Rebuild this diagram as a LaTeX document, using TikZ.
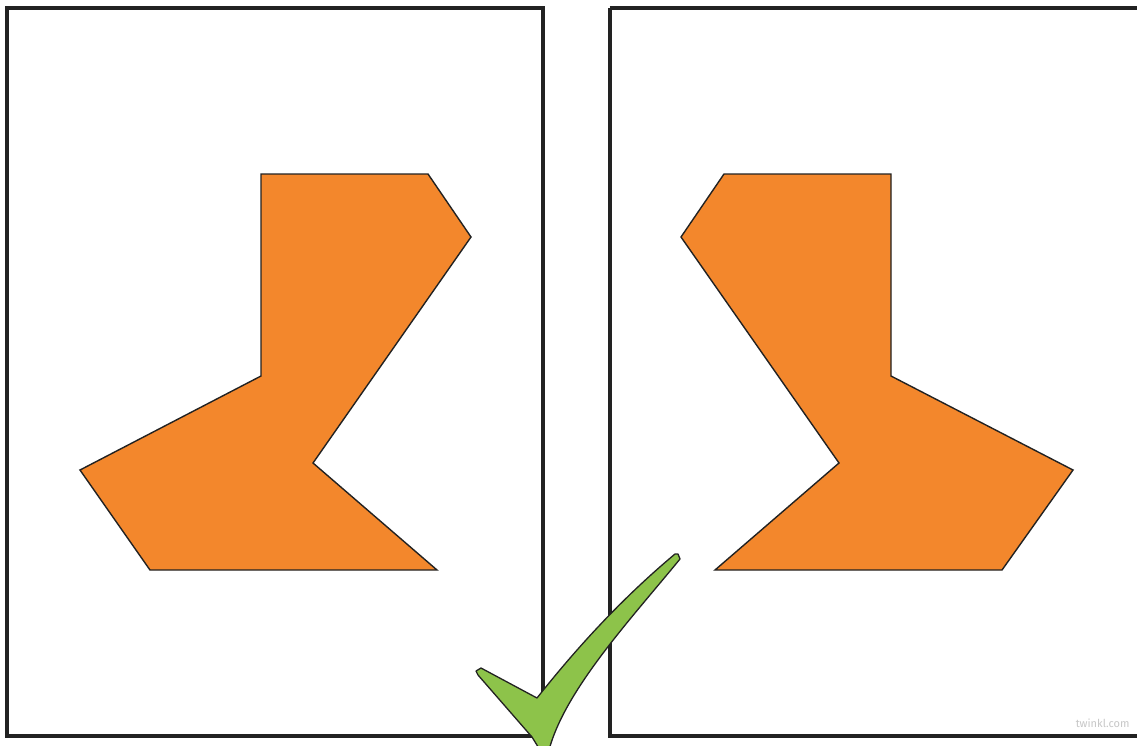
\documentclass[tikz,border=0pt]{standalone}
\usepackage{fontspec}
\setsansfont{Fira Sans}
\definecolor{shapeorange}{HTML}{F3872C}
\definecolor{tickgreen}{HTML}{8DC34A}
\definecolor{edge}{HTML}{222222}
\tikzset{
  frame/.style={draw=edge, line width=4pt},
  piece/.style={fill=shapeorange, draw=edge, line width=1.4pt, line join=miter},
  tick/.style={fill=tickgreen, draw=edge, line width=1.3pt, line join=round},
}
\begin{document}
\begin{tikzpicture}[x=1pt,y=-1pt]
\useasboundingbox (0,0) rectangle (1137,745);
\clip (0,0) rectangle (1137,745);
\fill[white] (0,0) rectangle (1137,745);
% frames
\draw[frame] (7,8) rectangle (542.5,736);
\draw[frame] (609.5,8) -- (1145,8) (609.5,8) -- (609.5,736) -- (1145,736);
% left shape
\draw[piece] (261,174) -- (428,174) -- (471,237) -- (313,463) -- (437,570) -- (150,570) -- (80,470) -- (261,376) -- cycle;
% right shape (mirror)
\draw[piece] (891,174) -- (724,174) -- (681,237) -- (839,463) -- (715,570) -- (1002,570) -- (1073,470) -- (891,376) -- cycle;
% tick
\draw[tick] (481,668) -- (537,698)
  .. controls (575,650) and (620,600) .. (675,554)
  -- (678,554) -- (680,559)
  .. controls (630,620) and (565,690) .. (549,750)
  -- (540,750) -- (532,737) -- (478,675) -- (476,671) -- cycle;
% watermark
\node[font=\sffamily\fontsize{11}{13}\selectfont, text=black!22, anchor=east] (wm) at (1133,723) {twinkl.com};
\end{tikzpicture}
\end{document}
